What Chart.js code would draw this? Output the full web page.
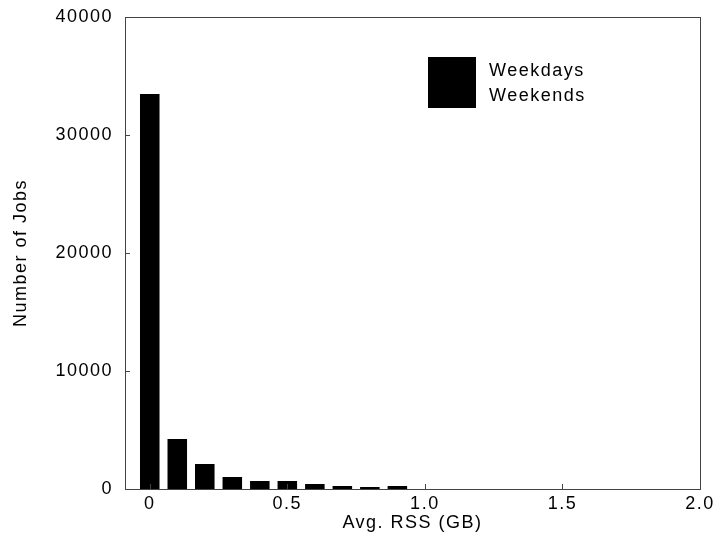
<!DOCTYPE html>
<html>
<head>
<meta charset="utf-8">
<script src="https://cdn.jsdelivr.net/npm/chart.js@4.4.0/dist/chart.umd.min.js"></script>
<style>
  html, body { margin: 0; padding: 0; background: #fff; }
  #wrap { width: 719px; height: 550px; }
</style>
</head>
<body>
<div id="wrap"><canvas id="rssChart" width="719" height="550"></canvas></div>
<script>
// bin centres (GB)
const bins = [0, 0.1, 0.2, 0.3, 0.4, 0.5, 0.6, 0.7, 0.8, 0.9, 1.0, 1.1, 1.2, 1.3, 1.4, 1.5, 1.6, 1.7, 1.8, 1.9];
const weekdays = [25000, 3150, 1600, 760, 510, 500, 330, 170, 130, 190, 12, 10, 8, 8, 6, 6, 5, 5, 4, 4];
const weekends = [8500, 1090, 520, 260, 170, 180, 120, 60, 40, 60, 4, 3, 3, 2, 2, 2, 1, 1, 1, 1];
const xTicks = [0, 0.5, 1.0, 1.5, 2.0];
const xTickLabels = ['0', '0.5', '1.0', '1.5', '2.0'];
const yTicks = [0, 10000, 20000, 30000, 40000];
const yTickLabels = ['0', '10000', '20000', '30000', '40000'];

const font = { family: 'Liberation Sans, Arial, sans-serif', size: 18, lineHeight: 1 };

// the scanned labels are set rather wide
const spacingPlugin = {
    id: 'spacing',
    beforeUpdate(chart) { chart.ctx.letterSpacing = '1.5px'; },
    beforeDraw(chart) { chart.ctx.letterSpacing = '1.5px'; }
};

// snap stacked bar edges to whole pixels so no seam shows between the two series
const snapPlugin = {
    id: 'snap',
    afterDatasetsUpdate(chart) {
        chart.data.datasets.forEach((ds, i) => {
            chart.getDatasetMeta(i).data.forEach(bar => {
                bar.y = Math.round(bar.y);
                bar.base = Math.round(bar.base);
            });
        });
    }
};

const framePlugin = {
    id: 'frame',
    afterDraw(chart) {
        const ctx = chart.ctx;
        const a = chart.chartArea;
        const x = chart.scales.x, y = chart.scales.y;
        ctx.save();
        ctx.strokeStyle = '#444';
        ctx.lineWidth = 1;
        ctx.strokeRect(a.left + 0.5, a.top + 0.5, a.right - a.left, a.bottom - a.top);
        // inward tick marks
        ctx.beginPath();
        yTicks.forEach(v => {
            const py = Math.round(y.getPixelForValue(v)) + 0.5;
            ctx.moveTo(a.left, py); ctx.lineTo(a.left + 5, py);
        });
        xTicks.forEach(v => {
            const px = Math.round(x.getPixelForValue(v)) + 0.5;
            ctx.moveTo(px, a.bottom); ctx.lineTo(px, a.bottom - 5);
        });
        ctx.stroke();

        // legend inside the plot, one block for both rows
        const lx = 428, ly = 57, bw = 48, rh = 25.5;
        ctx.font = '18px ' + font.family;
        ctx.textBaseline = 'middle';
        chart.data.datasets.forEach((ds, i) => {
            ctx.fillStyle = ds.backgroundColor;
            ctx.fillRect(lx, ly + i * rh - (i ? 1 : 0), bw, rh + 1);
            ctx.fillStyle = '#000';
            ctx.fillText(ds.label, lx + 61, ly + i * rh + rh / 2 + 1);
        });
        ctx.restore();
    }
};

const ctx = document.getElementById('rssChart').getContext('2d');
new Chart(ctx, {
    type: 'bar',
    data: {
        datasets: [{
            label: 'Weekdays',
            data: bins.map((b, i) => ({ x: b, y: weekdays[i] })),
            backgroundColor: '#000',
            borderWidth: 0
        }, {
            label: 'Weekends',
            data: bins.map((b, i) => ({ x: b, y: weekends[i] })),
            backgroundColor: '#000',
            borderWidth: 0
        }]
    },
    options: {
        responsive: false,
        animation: false,
        layout: { padding: { top: 17, right: 19, left: 12, bottom: 0 } },
        datasets: { bar: { categoryPercentage: 1, barPercentage: 0.71 } },
        plugins: { legend: { display: false }, tooltip: { enabled: false } },
        scales: {
            x: {
                type: 'linear',
                stacked: true,
                offset: false,
                min: -0.09,
                max: 2.0,
                afterBuildTicks: s => { s.ticks = xTicks.map(v => ({ value: v })); },
                afterFit: s => { s.height = 61; },
                ticks: {
                    color: '#000', font: font, padding: -2,
                    callback: (v) => xTickLabels[xTicks.indexOf(v)]
                },
                grid: { display: false },
                border: { display: false },
                title: { display: true, text: 'Avg. RSS (GB)', color: '#000', font: font, padding: { top: 3, bottom: 18 } }
            },
            y: {
                stacked: true,
                min: 0,
                max: 40000,
                afterBuildTicks: s => { s.ticks = yTicks.map(v => ({ value: v })); },
                afterFit: s => { s.width = 113; },
                ticks: {
                    color: '#000', font: font, padding: 4,
                    callback: (v) => yTickLabels[yTicks.indexOf(v)]
                },
                grid: { display: false },
                border: { display: false },
                title: { display: true, text: 'Number of Jobs', color: '#000', font: font, padding: { top: 0, bottom: 0 } }
            }
        }
    },
    plugins: [spacingPlugin, snapPlugin, framePlugin]
});
</script>
</body>
</html>
